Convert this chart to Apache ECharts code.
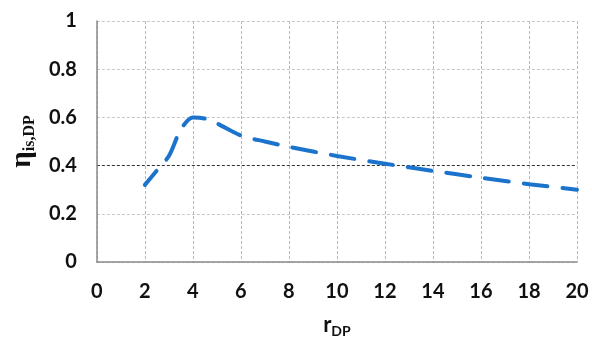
<!DOCTYPE html>
<html>
<head>
<meta charset="utf-8">
<script src="https://cdn.jsdelivr.net/npm/echarts@6/dist/echarts.min.js"></script>
<style>
  html, body { margin: 0; padding: 0; background: #fff; }
  #chart { width: 592px; height: 343px; }
</style>
</head>
<body>
<div id="chart"></div>
<script>
const rDP = [2, 2.5, 3, 3.5, 4, 4.5, 5, 6, 7, 8, 10, 12, 14, 16, 18, 20];
const etaIsDP = [0.32, 0.38, 0.44, 0.55, 0.6, 0.595, 0.575, 0.525, 0.5, 0.478, 0.44, 0.408, 0.378, 0.35, 0.323, 0.3];

const chart = echarts.init(document.getElementById("chart"), null, { renderer: "canvas" });

const labelFont = { fontFamily: "Lato", fontWeight: "bold", fontSize: 20, color: "#111" };

// the 0.4 line is drawn darker than the other horizontal grid lines
const hGridColors = ["#c8c8c8", "#c8c8c8", "#333333", "#c8c8c8", "#c8c8c8", "#c8c8c8"];

chart.setOption({
  animation: false,
  grid: { left: 95, right: 15, top: 21, bottom: 76 },
  xAxis: {
    type: "value",
    min: 0,
    max: 20,
    interval: 2,
    axisLine: { show: true, lineStyle: { color: "#8a8a8a", width: 1.5 } },
    axisTick: { show: false },
    axisLabel: { ...labelFont, margin: 20 },
    splitLine: { show: true, lineStyle: { color: "#b8b8b8", type: [3, 2], width: 1 } },
    name: "{r|r}{sub|DP}",
    nameLocation: "middle",
    nameGap: 50,
    nameTextStyle: {
      rich: {
        r: { fontFamily: "Lato", fontWeight: "bold", fontSize: 22, color: "#111" },
        sub: { fontFamily: "Lato", fontWeight: "bold", fontSize: 14, color: "#111", padding: [12, 0, 0, 0] }
      }
    }
  },
  yAxis: {
    type: "value",
    min: 0,
    max: 1,
    interval: 0.2,
    axisLine: { show: true, lineStyle: { color: "#8a8a8a", width: 1.5 } },
    axisTick: { show: false },
    axisLabel: { ...labelFont, margin: 20, formatter: (v) => String(+v.toFixed(1)) },
    splitLine: { show: true, lineStyle: { color: hGridColors, type: [3, 2], width: 1 } },
    name: "{eta|η}{sub|is,DP}",
    nameLocation: "middle",
    nameRotate: 90,
    nameGap: 54,
    nameTextStyle: {
      rich: {
        eta: { fontFamily: "Liberation Serif", fontWeight: "bold", fontSize: 29, color: "#111" },
        sub: { fontFamily: "Liberation Serif", fontWeight: "bold", fontSize: 16, color: "#111", padding: [15, 0, 0, 0] }
      }
    }
  },
  series: [
    {
      type: "line",
      data: rDP.map((x, i) => [x, etaIsDP[i]]),
      smooth: 0.3,
      showSymbol: false,
      lineStyle: { color: "#1b73cc", width: 4, type: [24, 15], dashOffset: 6, cap: "round" }
    }
  ]
});
</script>
</body>
</html>
